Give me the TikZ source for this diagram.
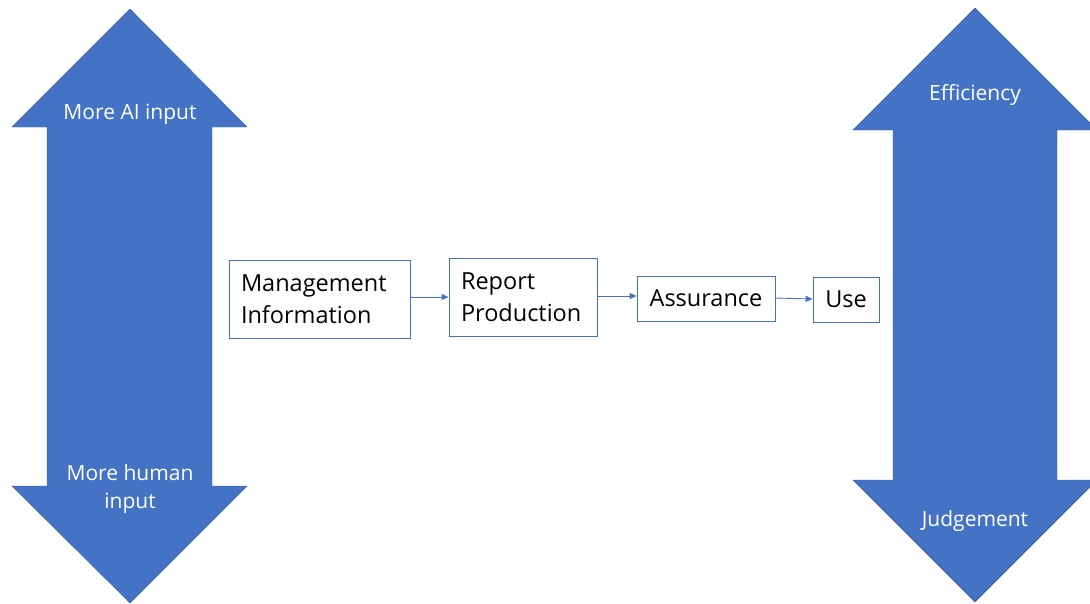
\documentclass[tikz,border=0pt]{standalone}
\usepackage{fontspec}
\setmainfont{Open Sans}
\usetikzlibrary{arrows.meta}
\definecolor{offblue}{HTML}{4472C4}
\begin{document}
\begin{tikzpicture}[x=1pt,y=-1pt,
  bigarrow/.style={fill=offblue,draw=offblue!85!black,line width=0.4pt},
  arrowtext/.style={text=white,font=\fontsize{21}{28}\selectfont,align=center},
  procbox/.style={draw=offblue,line width=0.9pt,fill=white,inner sep=0pt,font=\fontsize{23.5}{32}\selectfont},
  flow/.style={draw=offblue,line width=0.9pt,-{Triangle[length=7pt,width=6pt]}}]
\useasboundingbox (0,0) rectangle (1090,603);
% left double arrow
\fill[bigarrow] (130,9) -- (247,127) -- (212,127) -- (212,486) -- (247,486) -- (130,603) -- (12,486) -- (47,486) -- (47,127) -- (12,127) -- cycle;
% right double arrow
\fill[bigarrow] (975,8) -- (1097,130) -- (1057,130) -- (1057,480) -- (1097,480) -- (975,602) -- (853,480) -- (893,480) -- (893,130) -- (853,130) -- cycle;
\node[arrowtext] (ai) at (130,114) {More AI input};
\node[arrowtext] (hum) at (130,489) {More human\\input};
\node[arrowtext] (eff) at (975,95) {Efficiency};
\node[arrowtext] (jud) at (975,521) {Judgement};
% process boxes
\node[procbox,minimum width=181pt,minimum height=78pt,text width=157pt,align=left] (mi) at (319.5,299.5) {Management\\Information};
\node[procbox,minimum width=148pt,minimum height=78pt,text width=124pt,align=left] (rp) at (523,297) {Report\\Production};
\node[procbox,minimum width=138pt,minimum height=45pt,align=center] (as) at (706,298.5) {Assurance};
\node[procbox,minimum width=66pt,minimum height=45pt,align=center] (use) at (846,299.5) {Use};
\draw[flow] (mi.east |- 0,297) -- (rp.west |- 0,297);
\draw[flow] (rp.east |- 0,296) -- (as.west |- 0,296);
\draw[flow] (as.east |- 0,298) -- (use.west |- 0,299);
\end{tikzpicture}
\end{document}
